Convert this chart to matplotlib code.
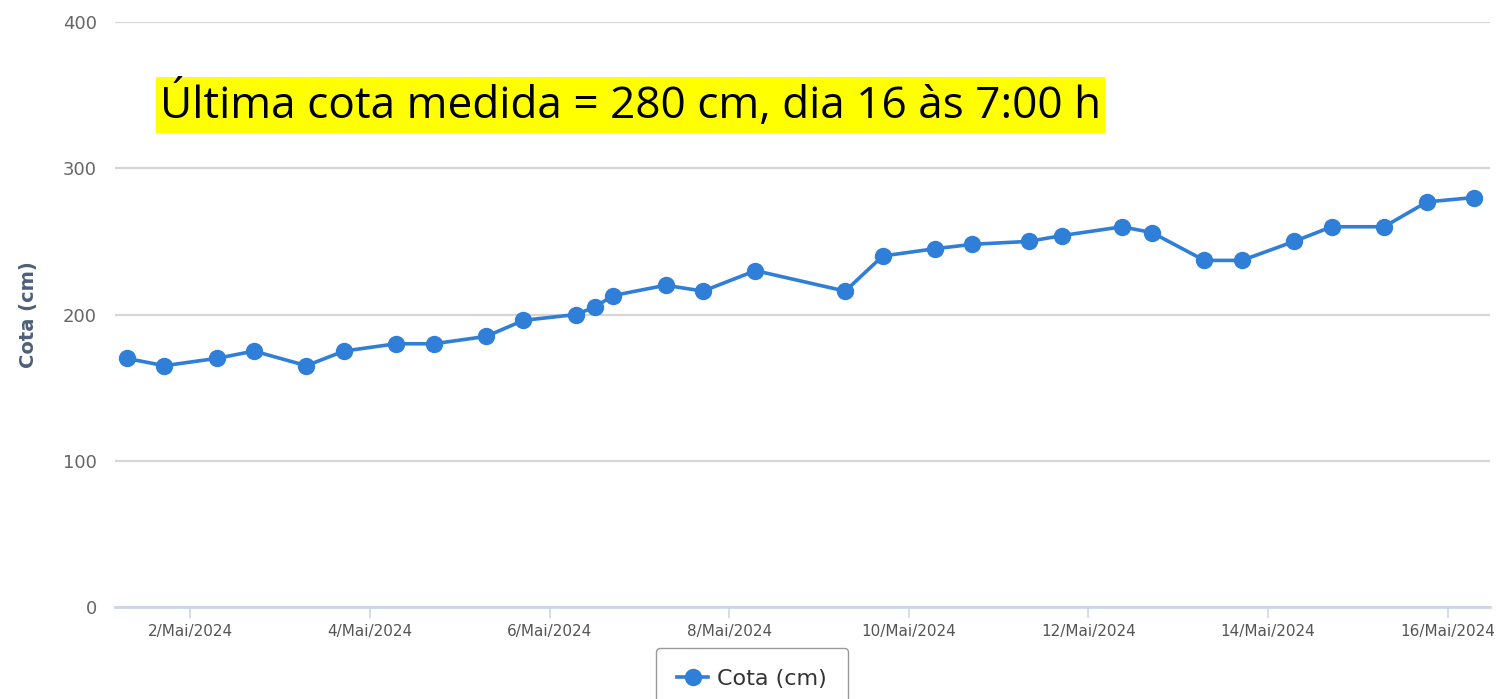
from datetime import datetime

import matplotlib
matplotlib.use("Agg")
from matplotlib import pyplot as plt
from matplotlib import dates as mdates
from matplotlib.ticker import FuncFormatter

# leituras da régua (data/hora, cota em cm)
times = [
    "2024-05-01 07:00", "2024-05-01 17:00", "2024-05-02 07:00", "2024-05-02 17:00",
    "2024-05-03 07:00", "2024-05-03 17:00", "2024-05-04 07:00", "2024-05-04 17:00",
    "2024-05-05 07:00", "2024-05-05 17:00", "2024-05-06 07:00", "2024-05-06 12:00",
    "2024-05-06 17:00", "2024-05-07 07:00", "2024-05-07 17:00", "2024-05-08 07:00",
    "2024-05-09 07:00", "2024-05-09 17:00", "2024-05-10 07:00", "2024-05-10 17:00",
    "2024-05-11 08:00", "2024-05-11 17:00", "2024-05-12 09:00", "2024-05-12 17:00",
    "2024-05-13 07:00", "2024-05-13 17:00", "2024-05-14 07:00", "2024-05-14 17:00",
    "2024-05-15 07:00", "2024-05-15 18:30", "2024-05-16 07:00",
]
cota = [
    170, 165, 170, 175, 165, 175, 180, 180, 185, 196, 200, 205, 213, 220, 216, 230,
    216, 240, 245, 248, 250, 254, 260, 256, 237, 237, 250, 260, 260, 277, 280,
]
y_ticks = [0, 100, 200, 300, 400]
meses = ["Jan", "Fev", "Mar", "Abr", "Mai", "Jun", "Jul", "Ago", "Set", "Out", "Nov", "Dez"]

series_label = "Cota (cm)"
note = "Última cota medida = 280 cm, dia 16 às 7:00 h"

LINE = "#2f7ed8"
GRID = "#d6d6d6"
AXIS = "#ccd6eb"
LABEL = "#666666"


def fmt_date(x, pos=None):
    d = mdates.num2date(x)
    return f"{d.day}/{meses[d.month - 1]}/{d.year}"


def main():
    t = [datetime.strptime(s, "%Y-%m-%d %H:%M") for s in times]

    fig = plt.figure(figsize=(15.01, 6.99), dpi=100)
    ax = fig.add_axes([0.0766, 0.1316, 0.9161, 0.8369])

    ax.plot(t, cota, color=LINE, lw=2.6, marker="o", ms=11.5, label=series_label, zorder=3)

    ax.set_ylim(0, 400)
    ax.set_yticks(y_ticks)
    ax.set_xlim(datetime(2024, 5, 1, 3, 50), datetime(2024, 5, 16, 11, 20))
    ax.xaxis.set_major_locator(mdates.DayLocator(bymonthday=range(2, 32, 2)))
    ax.xaxis.set_major_formatter(FuncFormatter(fmt_date))

    ax.grid(axis="y", color=GRID, lw=1.6)
    ax.set_axisbelow(True)
    for side in ("top", "right", "left"):
        ax.spines[side].set_visible(False)
    ax.spines["bottom"].set_color(AXIS)
    ax.spines["bottom"].set_linewidth(2)

    ax.tick_params(axis="y", length=0, pad=13, labelsize=13, labelcolor=LABEL)
    ax.tick_params(axis="x", length=8, width=1.2, color=AXIS, pad=4, labelsize=11, labelcolor="#555555")

    ax.set_ylabel(series_label, fontsize=14, fontweight="bold", color="#4d5f7a")
    ax.yaxis.set_label_coords(-0.056, 0.5)

    fig.text(0.1066, 0.85, note, fontsize=31.8, family="Open Sans", color="black",
             ha="left", va="center",
             bbox=dict(facecolor="#ffff00", edgecolor="none", pad=3))

    fig.legend(loc="upper center", bbox_to_anchor=(0.501, 0.073), fontsize=16,
               frameon=True, fancybox=True, edgecolor="#999999", framealpha=1,
               handlelength=1.4, borderpad=0.95, borderaxespad=0, handletextpad=0.4,
               labelcolor="#333333")

    fig.savefig("out.png", dpi=100)


if __name__ == "__main__":
    main()
